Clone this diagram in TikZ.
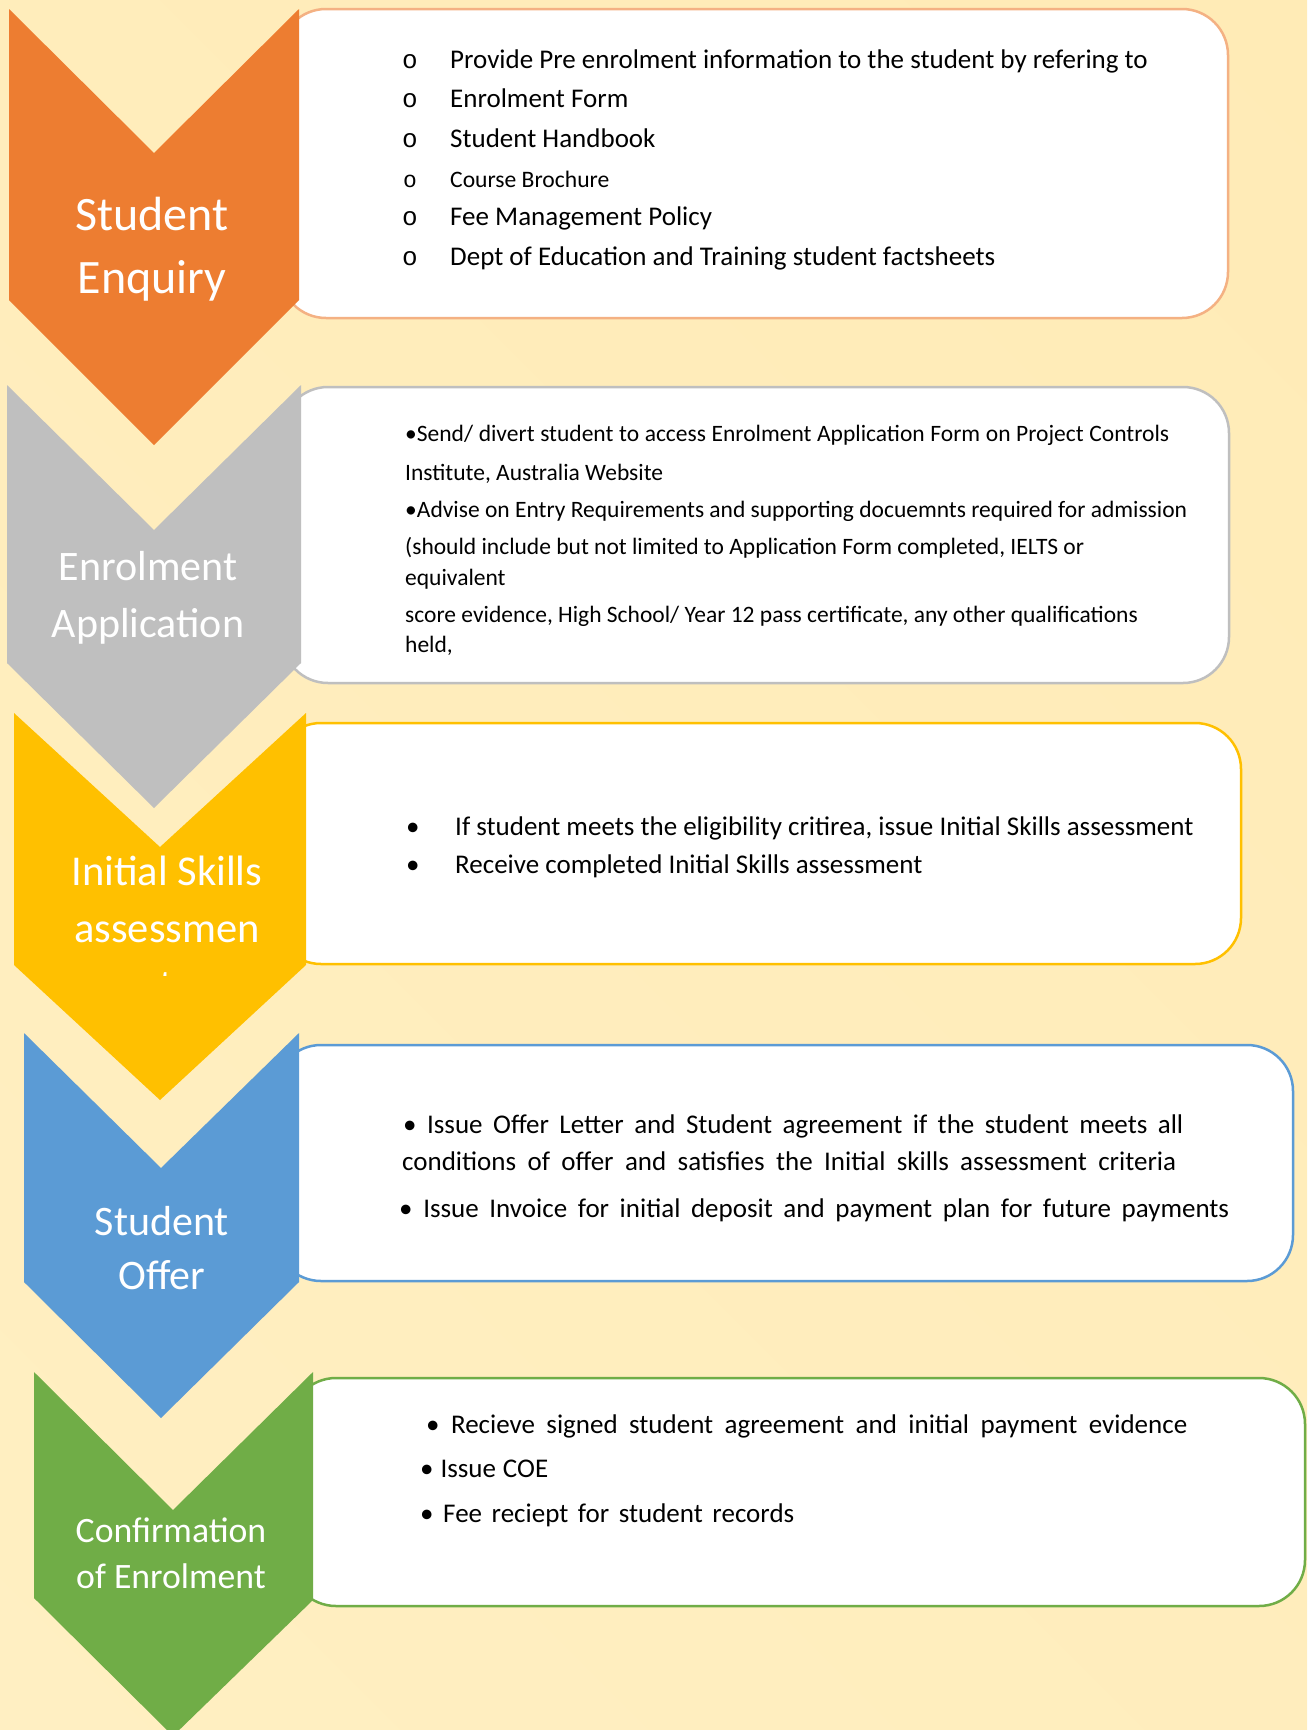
\documentclass[tikz,border=0pt]{standalone}
\usepackage{fontspec}
\setmainfont{Carlito}
\newfontfamily\circfont{Liberation Mono}

\definecolor{bgEdge}{HTML}{FFEBB6}
\definecolor{bgMid}{HTML}{FFF5DA}
\definecolor{bgLow}{HTML}{FFEFC2}
\definecolor{cOrange}{HTML}{ED7D31}
\definecolor{cOrangeLine}{HTML}{F4B183}
\definecolor{cGray}{HTML}{BFBFBF}
\definecolor{cYellow}{HTML}{FFC000}
\definecolor{cBlue}{HTML}{5B9BD5}
\definecolor{cGreen}{HTML}{70AD47}

\newcommand\sz[1]{\fontsize{#1}{#1}\selectfont}

\tikzset{
  panel/.style={draw=#1, fill=white, line width=2.5pt, rounded corners=46pt},
  label/.style={anchor=base, inner sep=0pt, text=white},
  item/.style={anchor=base west, inner sep=0pt, text=black},
  subbullet/.style={anchor=base west, inner sep=0pt, text=black, font=\circfont\sz{26}},
}

\begin{document}
\begin{tikzpicture}[x=1pt, y=-1pt]
\useasboundingbox (0,0) rectangle (1307,1730);
\clip (0,0) rectangle (1307,1730);

% background wash
\shade[top color=bgEdge, middle color=bgMid, bottom color=bgLow, shading angle=-45]
  (-300,-300) rectangle (1607,2030);

% text panels (behind the chevrons)
\draw[panel=cOrangeLine] (280,9)    rectangle (1228,318);
\draw[panel=cGray]       (282,387)  rectangle (1229,683);
\draw[panel=cYellow]     (275,723)  rectangle (1241,964);
\draw[panel=cBlue]       (275,1045) rectangle (1293,1281);
\draw[panel=cGreen]      (290,1378) rectangle (1305,1606);

% chevrons
\fill[cOrange] (9,9) -- (154,153) -- (299,9) -- (299,300) -- (154,445) -- (9,300) -- cycle;
\fill[cGray]   (7,385) -- (154,530) -- (301,385) -- (301,663) -- (154,808) -- (7,663) -- cycle;
\fill[cYellow] (14,713) -- (160,847) -- (306,713) -- (306,965) -- (160,1100) -- (14,965) -- cycle;
\fill[cBlue]   (24,1033) -- (161,1168) -- (299,1033) -- (299,1282) -- (161,1418) -- (24,1282) -- cycle;
\fill[cGreen]  (34,1372) -- (173,1510) -- (313,1372) -- (313,1600) -- (173,1736) -- (34,1598) -- cycle;

% chevron labels
\node[label, font=\sz{48}] (e1) at (152,230) {Student};
\node[label, font=\sz{48}] (e2) at (152,293) {Enquiry};
\node[label, font=\sz{42}] (a1) at (148,580) {Enrolment};
\node[label, font=\sz{42}] (a2) at (148,637) {Application};
\node[label, font=\sz{42.5}] (s1) at (167,885) {Initial Skills};
\node[label, font=\sz{42.5}] (s2) at (167,942) {assessmen};
\begin{scope}
  \clip (14,900) rectangle (306,975);
  \node[label, font=\sz{42.5}] (s3) at (167,999) {t};
\end{scope}
\node[label, font=\sz{42}] (o1) at (162,1235) {Student};
\node[label, font=\sz{42}] (o2) at (162,1289) {Offer};
\node[label, font=\sz{35.7}] (c1) at (171,1542) {Confirmation};
\node[label, font=\sz{35.7}] (c2) at (171,1588) {of Enrolment};

% panel 1: enquiry material
\node[subbullet] (p1b1) at (402,68)  {o};
\node[subbullet] (p1b2) at (402,107) {o};
\node[subbullet] (p1b3) at (402,147) {o};
\node[subbullet, font=\circfont\sz{23}] (p1b4) at (403,187) {o};
\node[subbullet] (p1b5) at (402,225) {o};
\node[subbullet] (p1b6) at (402,265) {o};
\node[item, font=\sz{27}]   (p1t1) at (450,68)  {Provide Pre enrolment information to the student by refering to};
\node[item, font=\sz{27}]   (p1t2) at (450,107) {Enrolment Form};
\node[item, font=\sz{27}]   (p1t3) at (450,147) {Student Handbook};
\node[item, font=\sz{23.6}] (p1t4) at (450,187) {Course Brochure};
\node[item, font=\sz{27}]   (p1t5) at (450,225) {Fee Management Policy};
\node[item, font=\sz{27}]   (p1t6) at (450,265) {Dept of Education and Training student factsheets};

% panel 2: application
\node[item, font=\sz{23.5}] (p2t1) at (405,441) {\makebox[764pt][s]{•Send/ divert student to access Enrolment Application Form on Project Controls}};
\node[item, font=\sz{23.5}] (p2t2) at (405,480) {Institute, Australia Website};
\node[item, font=\sz{23.5}] (p2t3) at (405,517) {•Advise on Entry Requirements and supporting docuemnts required for admission};
\node[item, font=\sz{23.5}] (p2t4) at (405,554) {(should include but not limited to Application Form completed, IELTS or};
\node[item, font=\sz{23.5}] (p2t5) at (405,585) {equivalent};
\node[item, font=\sz{23.5}] (p2t6) at (405,622) {score evidence, High School/ Year 12 pass certificate, any other qualifications};
\node[item, font=\sz{23.5}] (p2t7) at (405,652) {held,};

% panel 3: skills assessment
\node[item, font=\sz{27}] (p3b1) at (406,835) {•};
\node[item, font=\sz{27}] (p3b2) at (406,873) {•};
\node[item, font=\sz{27}] (p3t1) at (455,835) {If student meets the eligibility critirea, issue Initial Skills assessment};
\node[item, font=\sz{27}] (p3t2) at (455,873) {Receive completed Initial Skills assessment};

% panel 4: offer
\node[item, font=\sz{27}] (p4t1) at (403,1133) {\makebox[780pt][s]{• Issue Offer Letter and Student agreement if the student meets all}};
\node[item, font=\sz{27}] (p4t2) at (402,1170) {\makebox[774pt][s]{conditions of offer and satisfies the Initial skills assessment criteria}};
\node[item, font=\sz{27}] (p4t3) at (399,1217) {\makebox[830pt][s]{• Issue Invoice for initial deposit and payment plan for future payments}};

% panel 5: confirmation
\node[item, font=\sz{27}] (p5t1) at (426,1433) {\makebox[761pt][s]{• Recieve signed student agreement and initial payment evidence}};
\node[item, font=\sz{27}] (p5t2) at (420,1477) {\makebox[128pt][s]{• Issue COE}};
\node[item, font=\sz{27}] (p5t3) at (420,1522) {\makebox[374pt][s]{• Fee reciept for student records}};
\end{tikzpicture}
\end{document}
